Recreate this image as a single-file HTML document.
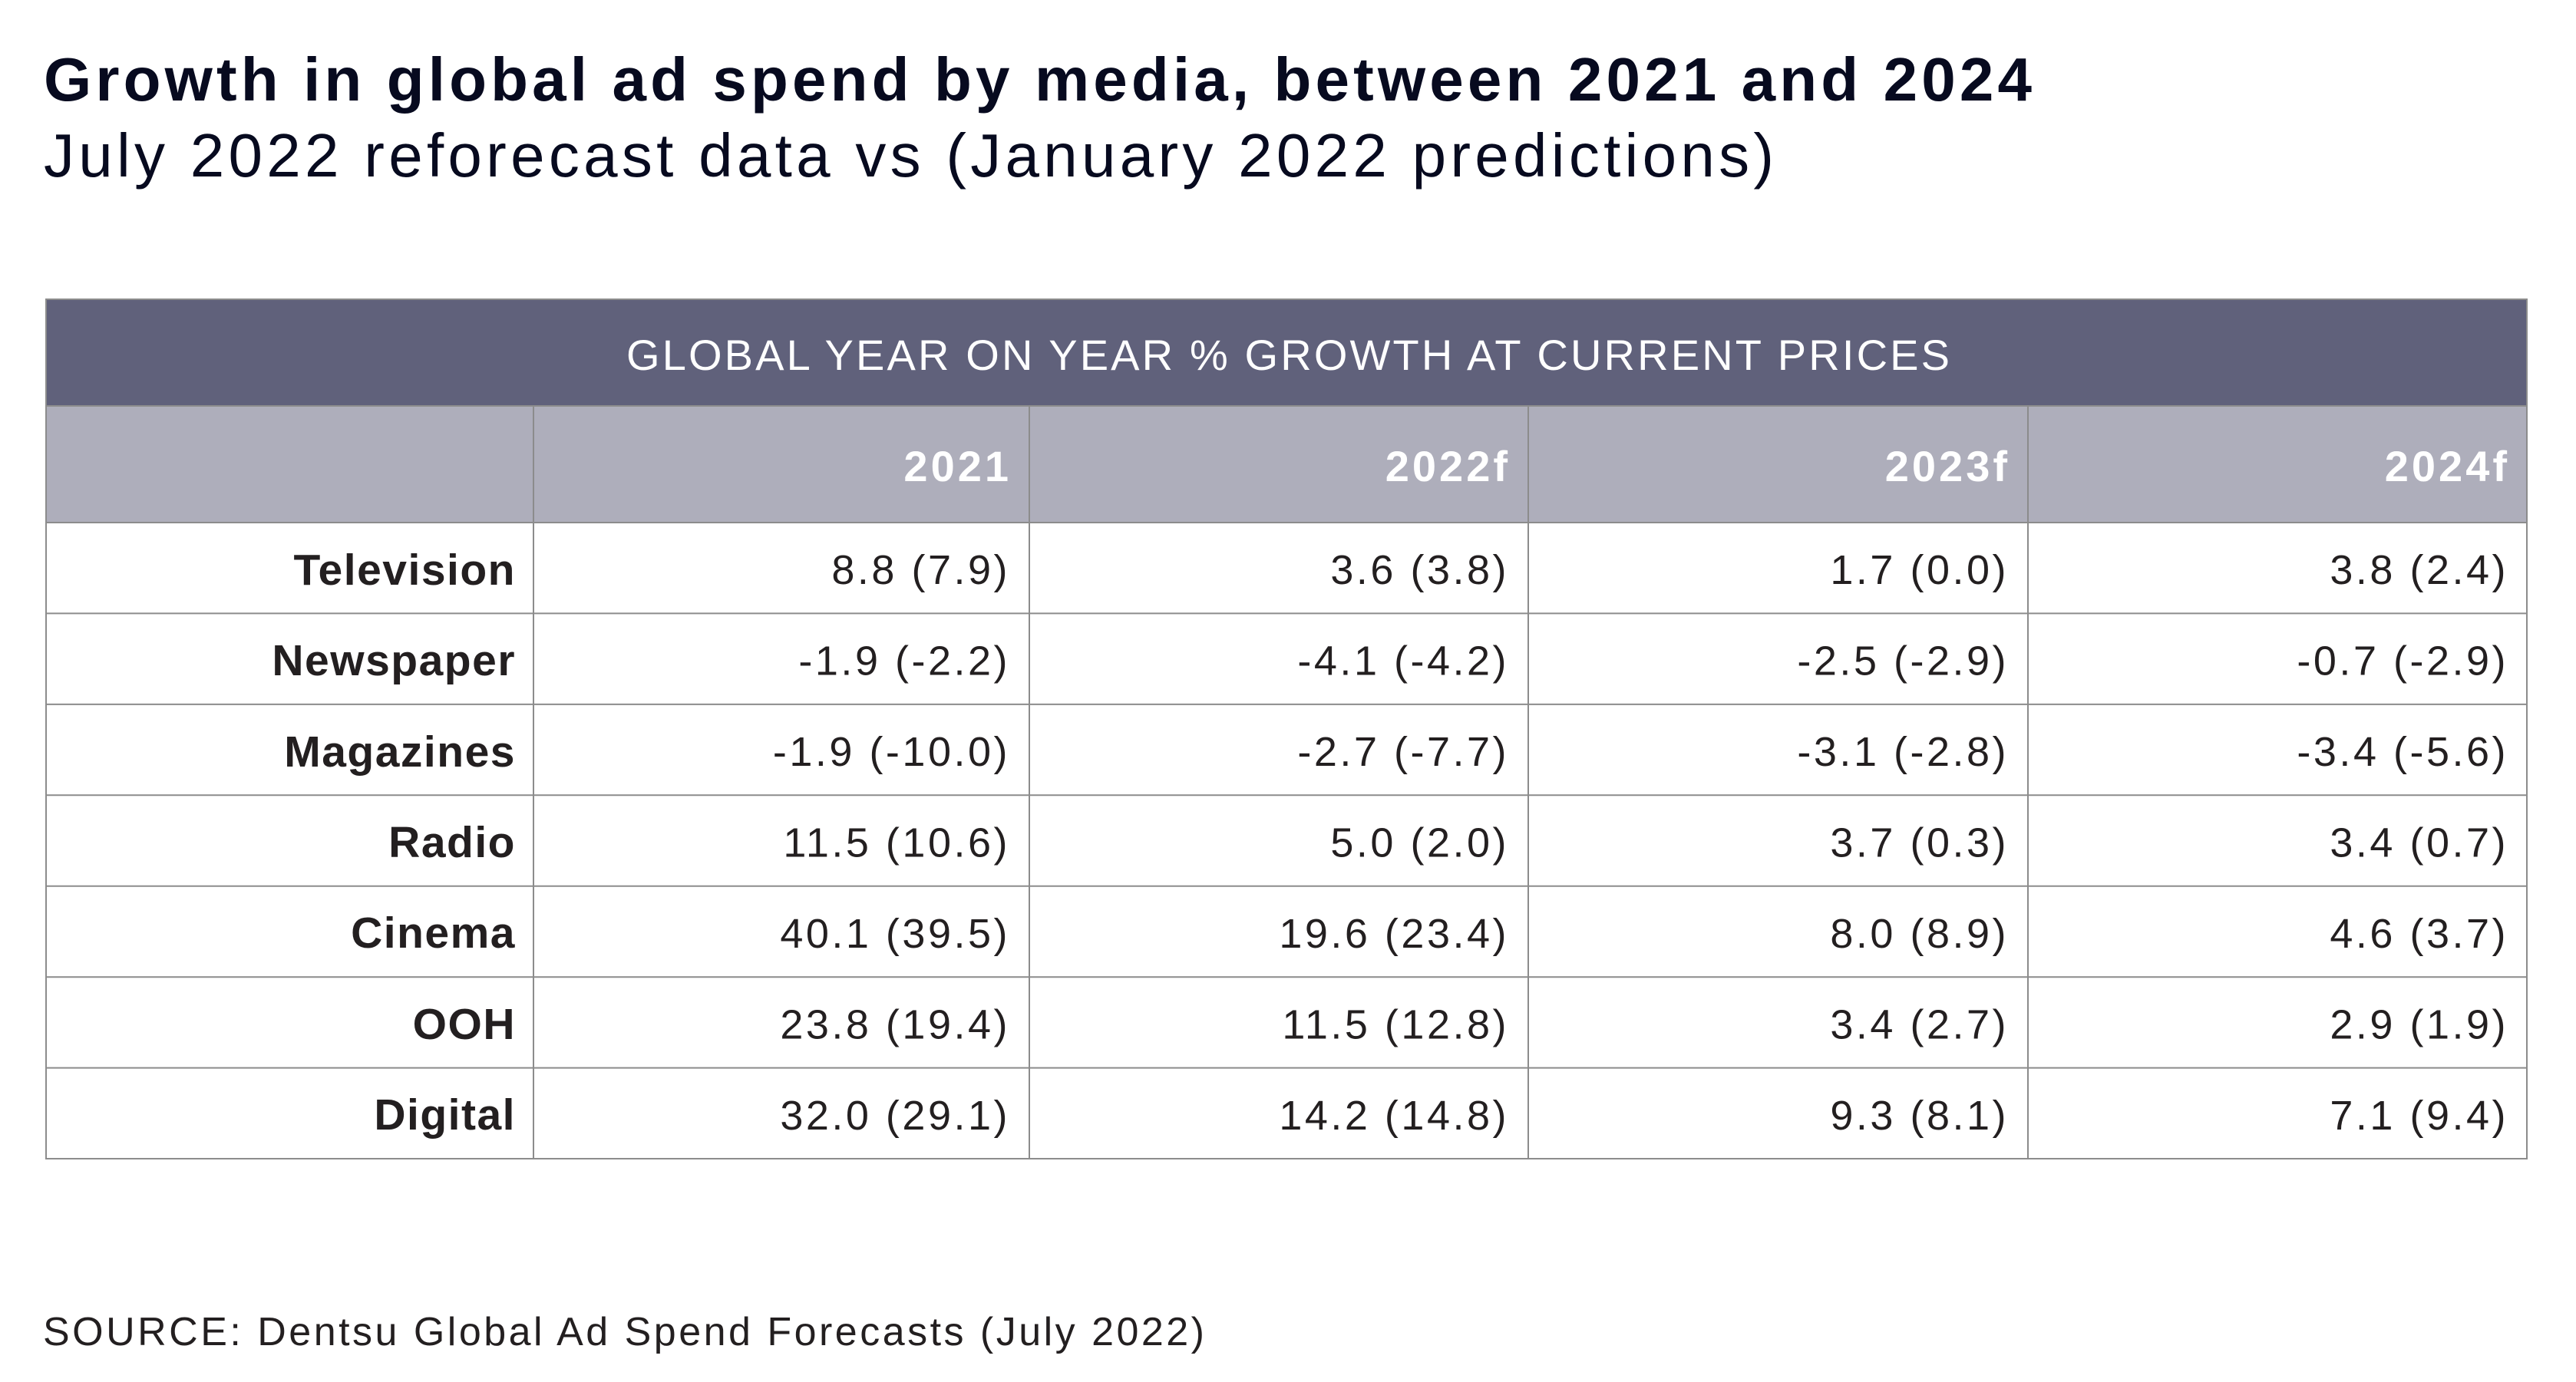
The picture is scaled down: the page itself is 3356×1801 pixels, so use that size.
<!DOCTYPE html>
<html>
<head>
<meta charset="utf-8">
<style>
  html, body { margin: 0; padding: 0; background: #ffffff; }
  body { width: 3356px; height: 1801px; overflow: hidden; }
  svg { display: block; }
  .t { font-family: "Liberation Sans", "DejaVu Sans", sans-serif; }
</style>
</head>
<body>
<svg width="3356" height="1801" viewBox="0 0 3356 1801" xmlns="http://www.w3.org/2000/svg">
  <rect x="0" y="0" width="3356" height="1801" fill="#ffffff"/>

  <!-- Title -->
  <text class="t" x="57" y="131" font-size="80" font-weight="bold" fill="#070a1f" textLength="2590" lengthAdjust="spacing">Growth in global ad spend by media, between 2021 and 2024</text>
  <text class="t" x="57" y="230" font-size="80" fill="#070a1f" textLength="2254" lengthAdjust="spacing">July 2022 reforecast data vs (January 2022 predictions)</text>

  <!-- Table header bars -->
  <rect x="60" y="390" width="3232" height="139" fill="#60617b"/>
  <rect x="60" y="529" width="3232" height="152" fill="#aeaebb"/>

  <text class="t" x="816" y="482" font-size="56" fill="#ffffff" textLength="1724" lengthAdjust="spacing">GLOBAL YEAR ON YEAR % GROWTH AT CURRENT PRICES</text>

  <!-- Year headers -->
  <g class="t" font-size="56" font-weight="bold" fill="#ffffff" text-anchor="end" letter-spacing="4">
    <text x="1318" y="627">2021</text>
    <text x="1968" y="627">2022f</text>
    <text x="2619" y="627">2023f</text>
    <text x="3270" y="627">2024f</text>
  </g>

  <!-- Grid lines -->
  <g stroke="#8c8c8c" stroke-width="2" fill="none">
    <line x1="60" y1="529" x2="3292" y2="529"/>
    <line x1="60" y1="681" x2="3292" y2="681"/>
    <line x1="60" y1="799.4" x2="3292" y2="799.4"/>
    <line x1="60" y1="917.9" x2="3292" y2="917.9"/>
    <line x1="60" y1="1036.3" x2="3292" y2="1036.3"/>
    <line x1="60" y1="1154.7" x2="3292" y2="1154.7"/>
    <line x1="60" y1="1273.2" x2="3292" y2="1273.2"/>
    <line x1="60" y1="1391.6" x2="3292" y2="1391.6"/>
    <line x1="60" y1="1510" x2="3292" y2="1510"/>
    <line x1="695" y1="529" x2="695" y2="1510"/>
    <line x1="1341" y1="529" x2="1341" y2="1510"/>
    <line x1="1991" y1="529" x2="1991" y2="1510"/>
    <line x1="2642" y1="529" x2="2642" y2="1510"/>
    <rect x="60" y="390" width="3232" height="1120"/>
  </g>

  <!-- Row labels -->
  <g class="t" font-size="57" font-weight="bold" fill="#231f20" text-anchor="end" letter-spacing="1.5">
    <text x="672" y="762">Television</text>
    <text x="672" y="880">Newspaper</text>
    <text x="672" y="999">Magazines</text>
    <text x="672" y="1117">Radio</text>
    <text x="672" y="1235">Cinema</text>
    <text x="672" y="1354">OOH</text>
    <text x="672" y="1472">Digital</text>
  </g>

  <!-- Data -->
  <g class="t" font-size="54" fill="#231f20" text-anchor="end" letter-spacing="3.5">
    <text x="1316" y="761">8.8 (7.9)</text>
    <text x="1966" y="761">3.6 (3.8)</text>
    <text x="2617" y="761">1.7 (0.0)</text>
    <text x="3268" y="761">3.8 (2.4)</text>

    <text x="1316" y="879.5">-1.9 (-2.2)</text>
    <text x="1966" y="879.5">-4.1 (-4.2)</text>
    <text x="2617" y="879.5">-2.5 (-2.9)</text>
    <text x="3268" y="879.5">-0.7 (-2.9)</text>

    <text x="1316" y="998">-1.9 (-10.0)</text>
    <text x="1966" y="998">-2.7 (-7.7)</text>
    <text x="2617" y="998">-3.1 (-2.8)</text>
    <text x="3268" y="998">-3.4 (-5.6)</text>

    <text x="1316" y="1116.4">11.5 (10.6)</text>
    <text x="1966" y="1116.4">5.0 (2.0)</text>
    <text x="2617" y="1116.4">3.7 (0.3)</text>
    <text x="3268" y="1116.4">3.4 (0.7)</text>

    <text x="1316" y="1234.9">40.1 (39.5)</text>
    <text x="1966" y="1234.9">19.6 (23.4)</text>
    <text x="2617" y="1234.9">8.0 (8.9)</text>
    <text x="3268" y="1234.9">4.6 (3.7)</text>

    <text x="1316" y="1353.3">23.8 (19.4)</text>
    <text x="1966" y="1353.3">11.5 (12.8)</text>
    <text x="2617" y="1353.3">3.4 (2.7)</text>
    <text x="3268" y="1353.3">2.9 (1.9)</text>

    <text x="1316" y="1471.8">32.0 (29.1)</text>
    <text x="1966" y="1471.8">14.2 (14.8)</text>
    <text x="2617" y="1471.8">9.3 (8.1)</text>
    <text x="3268" y="1471.8">7.1 (9.4)</text>
  </g>

  <!-- Source -->
  <text class="t" x="56" y="1753" font-size="52" fill="#231f20" textLength="1513" lengthAdjust="spacing">SOURCE: Dentsu Global Ad Spend Forecasts (July 2022)</text>
</svg>
</body>
</html>
